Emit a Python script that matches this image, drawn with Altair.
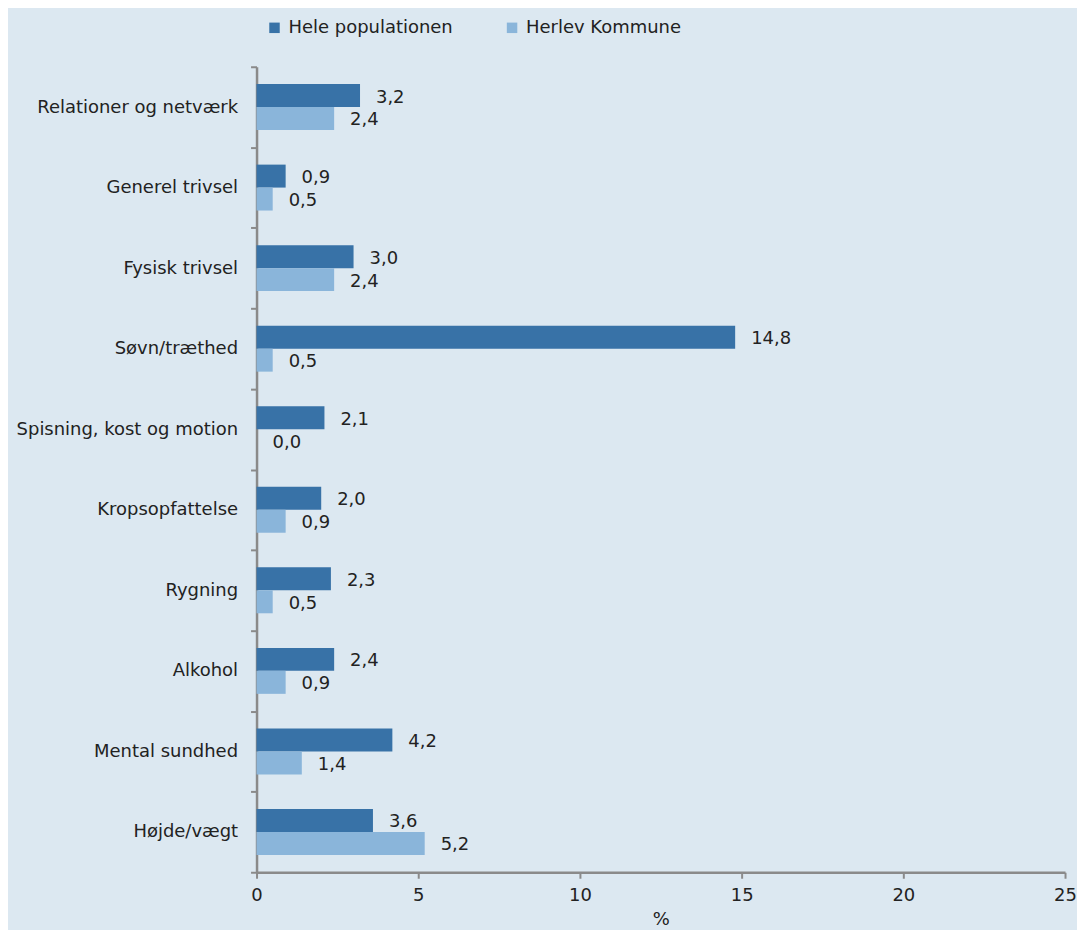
import altair as alt
import pandas as pd

categories = ["Relationer og netværk", "Generel trivsel", "Fysisk trivsel", "Søvn/træthed",
              "Spisning, kost og motion", "Kropsopfattelse", "Rygning", "Alkohol",
              "Mental sundhed", "Højde/vægt"]
series = ["Hele populationen", "Herlev Kommune"]
hele = [3.2, 0.9, 3.0, 14.8, 2.1, 2.0, 2.3, 2.4, 4.2, 3.6]
herlev = [2.4, 0.5, 2.4, 0.5, 0.0, 0.9, 0.5, 0.9, 1.4, 5.2]
x_ticks = [0, 5, 10, 15, 20, 25]

rows = []
for c, a, b in zip(categories, hele, herlev):
    rows.append({"cat": c, "series": series[0], "value": a, "label": f"{a:.1f}".replace(".", ",")})
    rows.append({"cat": c, "series": series[1], "value": b, "label": f"{b:.1f}".replace(".", ",")})
df = pd.DataFrame(rows)

FONT = "DejaVu Sans"
AXIS_C = "#8a8a8a"

y_enc = alt.Y("cat:N", sort=categories, title=None,
              scale=alt.Scale(paddingInner=0, paddingOuter=0),
              axis=alt.Axis(tickBand="extent", tickSize=6, labelPadding=13, labelLimit=0,
                            labelFontSize=18, labelFont=FONT, labelColor="#222",
                            domainColor=AXIS_C, tickColor=AXIS_C, domainWidth=2.5,
                            tickWidth=2))
yoff = alt.YOffset("series:N", sort=series,
                   scale=alt.Scale(paddingInner=0, paddingOuter=0.754))

bars = alt.Chart(df).mark_bar().encode(
    y=y_enc,
    yOffset=yoff,
    x=alt.X("value:Q", title="%",
            scale=alt.Scale(domain=[0, 25], nice=False),
            axis=alt.Axis(values=x_ticks, tickSize=6, labelPadding=8, labelFontSize=18,
                          labelFont=FONT, labelColor="#222", titleFont=FONT,
                          labelFlush=False,
                          titleFontSize=18, titleFontWeight="normal", titleColor="#222",
                          titlePadding=6, domainColor=AXIS_C, tickColor=AXIS_C,
                          domainWidth=2.5, tickWidth=2, grid=False)),
    color=alt.Color("series:N", sort=series, title=None,
                    scale=alt.Scale(domain=series, range=["#3872a7", "#8ab5da"]),
                    legend=alt.Legend(orient="none", legendX=9, legendY=-48,
                                      direction="horizontal", columns=2,
                                      columnPadding=50, symbolType="square",
                                      symbolSize=110, symbolStrokeWidth=0,
                                      labelFont=FONT, labelFontSize=18, labelLimit=0,
                                      labelColor="#222", labelOffset=5, padding=0)),
)

labels = alt.Chart(df).mark_text(align="left", baseline="middle", dx=16, dy=2,
                                 font=FONT, fontSize=18, color="#222").encode(
    y=alt.Y("cat:N", sort=categories),
    yOffset=yoff,
    x=alt.X("value:Q"),
    text="label:N",
)

chart = alt.layer(bars, labels).properties(
    width=810, height=807,
    background="#dce8f1",
    autosize=alt.AutoSizeParams(type="none"),
    padding={"left": 249, "top": 58, "right": 12, "bottom": 57},
).configure_view(stroke=None)

chart.save("out.html", embed_options={"renderer": "svg", "actions": False})
